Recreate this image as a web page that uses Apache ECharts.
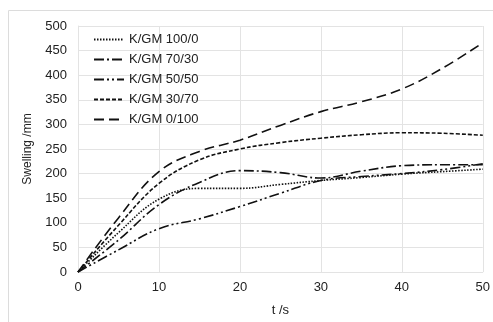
<!DOCTYPE html>
<html>
<head>
<meta charset="utf-8">
<script src="https://cdn.jsdelivr.net/npm/echarts@6/dist/echarts.min.js"></script>
<style>
  html, body { margin: 0; padding: 0; background: #fff; }
  #chart { width: 493px; height: 322px; }
</style>
</head>
<body>
<div id="chart"></div>
<script>
    // t (s) sampling points and swelling (mm)
    var times = [0, 5, 10, 15, 20, 25, 30, 35, 40, 45, 50];
    var names = ['K/GM 100/0', 'K/GM 70/30', 'K/GM 50/50', 'K/GM 30/70', 'K/GM 0/100'];
    var km100 = [0, 80, 148, 170, 170, 178, 186, 192, 199, 204, 209];
    var km70  = [0, 65, 137, 182, 206, 202, 191, 205, 216, 218, 218];
    var km50  = [0, 45, 88, 108, 133, 160, 186, 194, 200, 208, 220];
    var km30  = [0, 95, 180, 228, 250, 263, 272, 279, 283, 282, 278];
    var km0   = [0, 110, 204, 245, 268, 298, 326, 346, 372, 414, 466];
    var dashes = [[1.5, 1.5], [10, 3, 2, 3], [10, 3, 2, 3, 2, 3], [4, 2], [10, 5]];

    var chart = echarts.init(document.getElementById('chart'));

    function pairs(vals) {
        return times.map(function (t, i) { return [t, vals[i]]; });
    }

    var series = [km100, km70, km50, km30, km0].map(function (vals, i) {
        return {
            name: names[i],
            type: 'line',
            data: pairs(vals),
            smooth: 0.4,
            showSymbol: false,
            symbol: 'none',
            lineStyle: { color: '#111', width: 1.6, type: dashes[i] },
            itemStyle: { color: '#111' }
        };
    });

    var gridColor = '#e3e3e3';

    chart.setOption({
        animation: false,
        textStyle: { fontFamily: 'Liberation Sans, Arial, sans-serif' },
        graphic: [{
            type: 'rect',
            shape: { x: 8.5, y: 10.5, width: 500, height: 330 },
            style: { fill: 'none', stroke: '#dcdcdc', lineWidth: 1 },
            silent: true
        }],
        grid: { left: 78, right: 8, top: 26, bottom: 50 },
        legend: {
            orient: 'vertical',
            left: 88,
            top: 28,
            itemWidth: 30,
            itemHeight: 14,
            itemGap: 7,
            data: names,
            itemStyle: { opacity: 0 },
            textStyle: { fontSize: 13, color: '#222' }
        },
        xAxis: {
            type: 'value',
            min: 0, max: 50, interval: 10,
            name: 't /s',
            nameLocation: 'middle',
            nameGap: 32,
            nameTextStyle: { fontSize: 13, color: '#222' },
            axisLine: { show: true, lineStyle: { color: gridColor } },
            axisTick: { show: false },
            axisLabel: { fontSize: 13, color: '#222', margin: 9 },
            splitLine: { show: true, lineStyle: { color: gridColor } }
        },
        yAxis: {
            type: 'value',
            min: 0, max: 500, interval: 50,
            name: 'Swelling /mm',
            nameLocation: 'middle',
            nameGap: 44,
            nameTextStyle: { fontSize: 12, color: '#222' },
            axisLine: { show: true, lineStyle: { color: gridColor } },
            axisTick: { show: false },
            axisLabel: { fontSize: 13, color: '#222', margin: 11 },
            splitLine: { show: true, lineStyle: { color: gridColor } }
        },
        series: series
    });
</script>
</body>
</html>
